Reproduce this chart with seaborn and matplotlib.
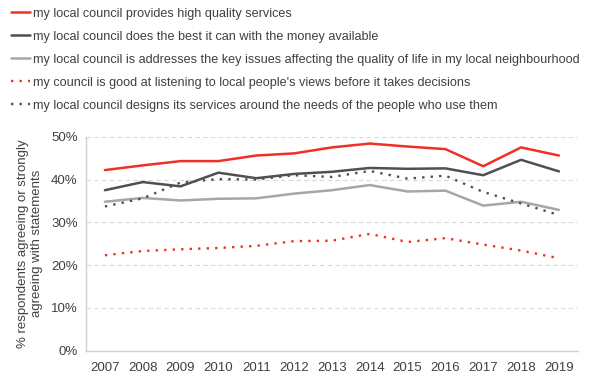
import matplotlib
matplotlib.use("Agg")
import matplotlib.pyplot as plt
import seaborn as sns
import pandas as pd
from matplotlib.ticker import FuncFormatter

years = ["2007", "2008", "2009", "2010", "2011", "2012", "2013",
         "2014", "2015", "2016", "2017", "2018", "2019"]

high_quality = [42.2, 43.3, 44.3, 44.3, 45.6, 46.1, 47.5, 48.4, 47.7, 47.1, 43.1, 47.5, 45.6]
best_money = [37.5, 39.4, 38.4, 41.6, 40.3, 41.3, 41.8, 42.7, 42.5, 42.6, 41.0, 44.6, 41.9]
key_issues = [34.8, 35.7, 35.1, 35.5, 35.6, 36.7, 37.5, 38.7, 37.2, 37.4, 33.9, 34.8, 32.9]
listening = [22.3, 23.3, 23.7, 24.0, 24.5, 25.6, 25.7, 27.3, 25.4, 26.3, 24.8, 23.4, 21.6]
designs = [33.7, 35.6, 39.3, 40.1, 40.0, 41.0, 40.6, 42.0, 40.2, 40.9, 37.1, 34.4, 31.7]

labels = [
    "my local council provides high quality services",
    "my local council does the best it can with the money available",
    "my local council is addresses the key issues affecting the quality of life in my local neighbourhood",
    "my council is good at listening to local people's views before it takes decisions",
    "my local council designs its services around the needs of the people who use them",
]
series = [high_quality, best_money, key_issues, listening, designs]
colors = ["#ee3124", "#505050", "#a6a6a6", "#ee3124", "#505050"]
styles = ["-", "-", "-", (0, (1, 2.6)), (0, (1, 2.6))]

sns.set_theme(style="white")
plt.rcParams["font.family"] = ["Liberation Sans", "DejaVu Sans"]

fig = plt.figure(figsize=(6.0, 3.84), dpi=100)
ax = fig.add_axes([0.1433, 0.0867, 0.8197, 0.5573])

xs = list(range(len(years)))
handles = []
for vals, lab, c, ls in zip(series, labels, colors, styles):
    df = pd.DataFrame({"x": xs, "y": vals})
    sns.lineplot(data=df, x="x", y="y", ax=ax, color=c, linewidth=1.8 if ls == "-" else 1.7,
                 linestyle=ls, label=lab, legend=False)
    handles.append(ax.lines[-1])

ax.set_xlim(-0.5, len(years) - 0.5)
ax.set_ylim(0, 50)
ax.set_xticks(xs)
ax.set_xticklabels(years)
ax.set_yticks([0, 10, 20, 30, 40, 50])
ax.yaxis.set_major_formatter(FuncFormatter(lambda v, p: f"{int(v)}%"))
ax.tick_params(axis="both", labelsize=9.5, colors="#404040", length=0)
ax.tick_params(axis="x", pad=8)
ax.tick_params(axis="y", pad=6)
ax.set_xlabel("")
ax.set_ylabel("% respondents agreeing or strongly\nagreeing with statements",
              fontsize=9.5, color="#404040", labelpad=6)
ax.yaxis.grid(True, color="#d9d9d9", linestyle=(0, (4, 3)), linewidth=0.8)
ax.xaxis.grid(False)
for s in ["top", "right"]:
    ax.spines[s].set_visible(False)
for s in ["left", "bottom"]:
    ax.spines[s].set_color("#d0d0d0")
    ax.spines[s].set_linewidth(1.0)

fig.legend(handles, labels, loc="upper left", bbox_to_anchor=(0.017, 0.983),
           frameon=False, fontsize=9.1, handlelength=1.5, handletextpad=0.2,
           labelspacing=0.87, borderaxespad=0.0, borderpad=0.1,
           labelcolor="#404040")

fig.savefig("out.png", dpi=100)
